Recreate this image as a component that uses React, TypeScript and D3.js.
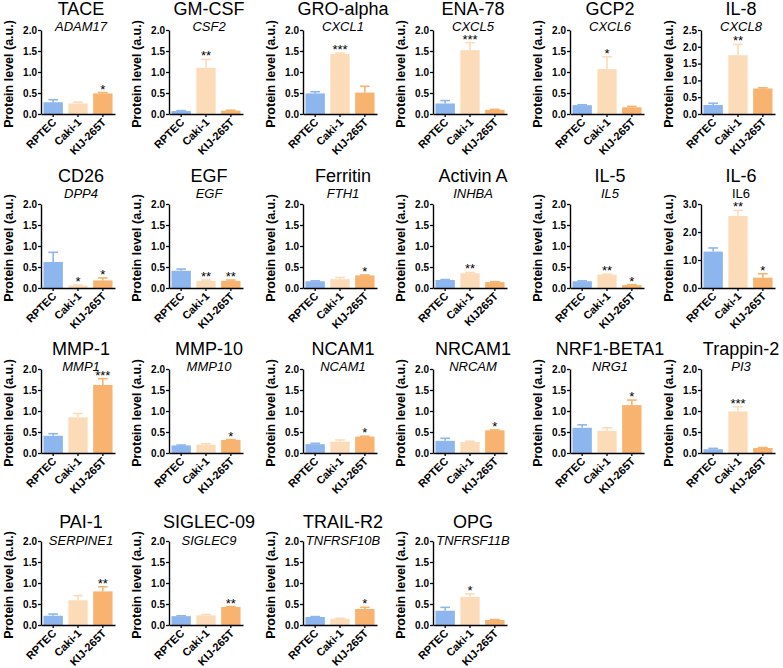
import * as d3 from 'd3';
import React, { useEffect, useRef } from 'react';

// protein panels, read left-to-right, top-to-bottom
const titles = ["TACE", "GM-CSF", "GRO-alpha", "ENA-78", "GCP2", "IL-8",
    "CD26", "EGF", "Ferritin", "Activin A", "IL-5", "IL-6",
    "MMP-1", "MMP-10", "NCAM1", "NRCAM1", "NRF1-BETA1", "Trappin-2",
    "PAI-1", "SIGLEC-09", "TRAIL-R2", "OPG"];
const genes = ["ADAM17", "CSF2", "CXCL1", "CXCL5", "CXCL6", "CXCL8",
    "DPP4", "EGF", "FTH1", "INHBA", "IL5", "IL6",
    "MMP1", "MMP10", "NCAM1", "NRCAM", "NRG1", "PI3",
    "SERPINE1", "SIGLEC9", "TNFRSF10B", "TNFRSF11B"];
const uprightGenes = ["IL6"];
const yMax = [2, 2, 2, 2, 2, 2.5, 2, 2, 2, 2, 2, 3, 2, 2, 2, 2, 2, 2, 2, 2, 2, 2];

const groups = ["RPTEC", "Caki-1", "KIJ-265T"];
const altLabels = { "Activin A": ["RPTEC", "Caki-1", "KIJ265T"] };

const rptec = [0.28, 0.07, 0.49, 0.25, 0.21, 0.27, 0.62, 0.41, 0.16, 0.19, 0.16, 1.30,
    0.41, 0.18, 0.21, 0.29, 0.60, 0.09, 0.22, 0.21, 0.19, 0.34];
const rptecErr = [0.06, 0.01, 0.04, 0.07, 0.01, 0.05, 0.23, 0.04, 0.01, 0.01, 0.01, 0.13,
    0.05, 0.01, 0.02, 0.06, 0.07, 0.02, 0.04, 0.01, 0.01, 0.08];
const caki = [0.25, 1.10, 1.43, 1.52, 1.07, 1.75, 0.06, 0.17, 0.21, 0.35, 0.32, 2.57,
    0.85, 0.20, 0.27, 0.26, 0.53, 0.99, 0.59, 0.23, 0.15, 0.67];
const cakiErr = [0.03, 0.20, 0.02, 0.18, 0.29, 0.32, 0.01, 0.02, 0.04, 0.02, 0.01, 0.20,
    0.09, 0.02, 0.04, 0.02, 0.07, 0.11, 0.11, 0.02, 0.01, 0.07];
const kij = [0.49, 0.08, 0.51, 0.10, 0.16, 0.76, 0.18, 0.17, 0.30, 0.14, 0.07, 0.37,
    1.62, 0.31, 0.39, 0.54, 1.14, 0.12, 0.80, 0.43, 0.38, 0.12];
const kijErr = [0.02, 0.01, 0.15, 0.01, 0.02, 0.02, 0.06, 0.02, 0.01, 0.01, 0.01, 0.14,
    0.15, 0.01, 0.01, 0.01, 0.12, 0.01, 0.11, 0.01, 0.04, 0.01];
const cakiStars = ["", "**", "***", "***", "*", "**", "*", "**", "", "**", "**", "**",
    "", "", "", "", "", "***", "", "", "", "*"];
const kijStars = ["*", "", "", "", "", "", "*", "**", "*", "", "*", "*",
    "***", "*", "*", "*", "*", "", "**", "**", "*", ""];

const colors = ["#8db5ee", "#fcdcb8", "#f7b36f"];

// grid placement (layout, not data)
const colX = [41, 169, 303, 433, 570, 701];
const rows = [
    { base: 114, title: 15, gene: 31 },
    { base: 288, title: 182, gene: 198 },
    { base: 453, title: 355, gene: 371 },
    { base: 625, title: 528, gene: 545 },
];
const plotH = 84;
const plotW = 74;
const FONT = "Arial, 'Liberation Sans', sans-serif";

export default function App() {
    const svgRef = useRef(null);

    useEffect(() => {
        const svg = d3.select(svgRef.current);
        svg.selectAll('*').remove();

        titles.forEach((title, i) => {
            const row = rows[Math.floor(i / 6)];
            const x0 = colX[i % 6];
            const g = svg.append('g').attr('transform', `translate(${x0},${row.base - plotH})`);

            const x = d3.scaleBand().domain(groups).range([0, plotW]).paddingInner(0.22).paddingOuter(0.1);
            const y = d3.scaleLinear().domain([0, yMax[i]]).range([plotH, 0]);
            const ticks = yMax[i] === 3 ? [0, 1, 2, 3] : d3.range(0, yMax[i] + 0.01, 0.5);

            const vals = [rptec[i], caki[i], kij[i]];
            const errs = [rptecErr[i], cakiErr[i], kijErr[i]];
            const stars = ["", cakiStars[i], kijStars[i]];
            const labels = altLabels[title] || groups;

            // bars
            g.selectAll('rect.bar').data(groups).enter().append('rect')
                .attr('class', 'bar')
                .attr('x', (d) => x(d))
                .attr('width', x.bandwidth())
                .attr('y', (d, k) => y(vals[k]))
                .attr('height', (d, k) => plotH - y(vals[k]))
                .attr('fill', (d, k) => colors[k]);

            // error bars (upper only)
            const cap = x.bandwidth() * 0.5;
            groups.forEach((grp, k) => {
                const cx = x(grp) + x.bandwidth() / 2;
                const top = y(vals[k] + errs[k]);
                g.append('line').attr('x1', cx).attr('x2', cx)
                    .attr('y1', y(vals[k])).attr('y2', top)
                    .attr('stroke', colors[k]).attr('stroke-width', 1.6);
                g.append('line').attr('x1', cx - cap / 2).attr('x2', cx + cap / 2)
                    .attr('y1', top).attr('y2', top)
                    .attr('stroke', colors[k]).attr('stroke-width', 1.6);
                if (stars[k]) {
                    g.append('text').attr('x', cx).attr('y', top + 1)
                        .attr('text-anchor', 'middle')
                        .style('font-family', FONT).style('font-size', '13px')
                        .text(stars[k]);
                }
            });

            // y axis
            const yAxis = g.append('g').call(
                d3.axisLeft(y).tickValues(ticks).tickSize(3).tickSizeOuter(0).tickPadding(1)
                    .tickFormat(d3.format('.1f')));
            yAxis.select('.domain').attr('stroke-width', 1.4);
            yAxis.selectAll('.tick line').attr('stroke-width', 1.3);
            yAxis.selectAll('text').style('font-family', FONT).style('font-size', '10px')
                .style('font-weight', 'bold').attr('fill', '#000');

            // x axis
            const xAxis = g.append('g').attr('transform', `translate(0,${plotH})`)
                .call(d3.axisBottom(x).tickSize(3).tickSizeOuter(0).tickFormat(() => ''));
            xAxis.select('.domain').attr('stroke-width', 1.4);
            xAxis.selectAll('.tick line').attr('stroke-width', 1.3);

            groups.forEach((grp, k) => {
                const cx = x(grp) + x.bandwidth() / 2;
                g.append('text')
                    .attr('transform', `translate(${cx + 4},${plotH + 9}) rotate(-45)`)
                    .attr('text-anchor', 'end')
                    .style('font-family', FONT).style('font-size', '11px').style('font-weight', 'bold')
                    .text(labels[k]);
            });

            // y label
            g.append('text')
                .attr('transform', `translate(-28,${plotH / 2 + 2}) rotate(-90)`)
                .attr('text-anchor', 'middle')
                .style('font-family', FONT).style('font-size', '12.5px').style('font-weight', 'bold')
                .text('Protein level (a.u.)');

            // titles
            svg.append('text').attr('x', x0 + 40).attr('y', row.title)
                .attr('text-anchor', 'middle')
                .style('font-family', FONT).style('font-size', '18px')
                .text(title);
            svg.append('text').attr('x', x0 + 40).attr('y', row.gene)
                .attr('text-anchor', 'middle')
                .style('font-family', FONT).style('font-size', '13px')
                .style('font-style', uprightGenes.includes(genes[i]) ? 'normal' : 'italic')
                .text(genes[i]);
        });
    }, []);

    return (
        <svg ref={svgRef} width={783} height={668}
            style={{ position: 'absolute', left: 0, top: 0, background: '#fff' }} />
    );
}
